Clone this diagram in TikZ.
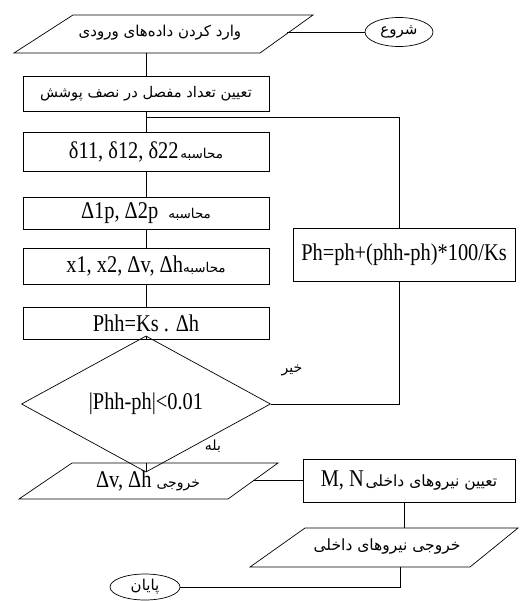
\documentclass[tikz,border=0pt]{standalone}
\usepackage{fontspec}
\setmainfont{Liberation Serif}[FakeStretch=0.85]
\newfontfamily\fa[Script=Arabic]{DejaVu Sans}
\TeXXeTstate=1
\usetikzlibrary{shapes.geometric}
\newcommand\FA[1]{{\fa\beginR #1\endR}}
\newcommand\LT[1]{{\fontsize{24}{26}\selectfont #1}}
\newcommand\FS[1]{\fontsize{#1}{#1}\selectfont}
\begin{document}
\begin{tikzpicture}[x=1pt,y=-1pt,line width=0.7pt,
  box/.style={draw,rectangle,minimum width=246pt,inner sep=0pt},
  term/.style={draw,ellipse,inner sep=0pt},
  lbl/.style={inner sep=0pt}]
\useasboundingbox (0,0) rectangle (519,601);
% start
\node[term,minimum width=68pt,minimum height=29pt] (start) at (399,32) {\FS{15}\FA{شروع}};
% input parallelogram
\draw (73,15) -- (313,15) -- (260,53) -- (14,53) -- cycle;
\node[lbl] (in1) at (160,33) {\FS{15}\FA{وارد کردن داده‌های ورودی}};
\coordinate (in1r) at (287,32);
\coordinate (in1b) at (146,53);
% boxes
\node[box,minimum height=35pt] (b2) at (146,93.5) {\FS{14.7}\FA{تعیین تعداد مفصل در نصف پوشش}};
\coordinate (jn) at (146,117);
\node[box,minimum height=39pt] (b3) at (146,151.5) {\LT{δ11, δ12, δ22}\,{\FS{13.5}\FA{محاسبه}}};
\node[box,minimum height=32pt] (b4) at (146,213) {\LT{Δ1p, Δ2p}\quad{\FS{13.5}\FA{محاسبه}}};
\node[box,minimum height=36pt] (b5) at (146,266) {\LT{x1, x2, Δv, Δh}{\FS{13.5}\FA{محاسبه}}};
\node[box,minimum height=32pt] (b6) at (146,323) {\LT{Phh=Ks . Δh}};
\node[draw,diamond,minimum width=249pt,minimum height=78pt,inner sep=0pt] (dia) at (146,404) {\LT{|Phh-ph|<0.01}};
% loop
\coordinate (lx) at (399,117);
\node[box,minimum width=222pt,minimum height=53pt] (ph) at (404,254.5) {\LT{Ph=ph+(phh-ph)*100/Ks}};
\node[lbl] (no) at (292,370) {\FS{14}\FA{خیر}};
\node[lbl] (yes) at (213,446) {\FS{14}\FA{بله}};
% output 1
\draw (72,463) -- (278,463) -- (228,499) -- (19,499) -- cycle;
\node[lbl] (o1) at (148,481) {\LT{Δv, Δh}\enspace{\FS{14}\FA{خروجی}}};
\coordinate (o1t) at (146,463);
\coordinate (o1r) at (253,480);
% M N box
\node[box,minimum width=212pt,minimum height=43pt] (mn) at (409,480.5) {\LT{M, N}\,{\FS{15.5}\FA{تعیین نیروهای داخلی}}};
\coordinate (mx) at (404,480);
% output 2
\draw (305,528) -- (518,528) -- (470,567) -- (250,567) -- cycle;
\node[lbl] (o2) at (387,546) {\FS{15.5}\FA{خروجی نیروهای داخلی}};
\coordinate (o2t) at (404,528);
\coordinate (o2b) at (400,567);
% end
\node[term,minimum width=70pt,minimum height=26pt] (end) at (145,587) {\FS{15}\FA{پایان}};
% connectors
\draw (start) -- (in1r);
\draw (in1b) -- (b2) -- (b3) -- (b4) -- (b5) -- (b6) -- (dia);
\draw (dia.east) -| (ph.south -| lx);
\draw (ph.north -| lx) |- (jn);
\draw (dia.south) -- (o1t);
\draw (o1r) -- (mn.west |- o1r);
\draw (mn.south -| mx) -- (o2t);
\draw (o2b) |- (end);
\end{tikzpicture}
\end{document}
